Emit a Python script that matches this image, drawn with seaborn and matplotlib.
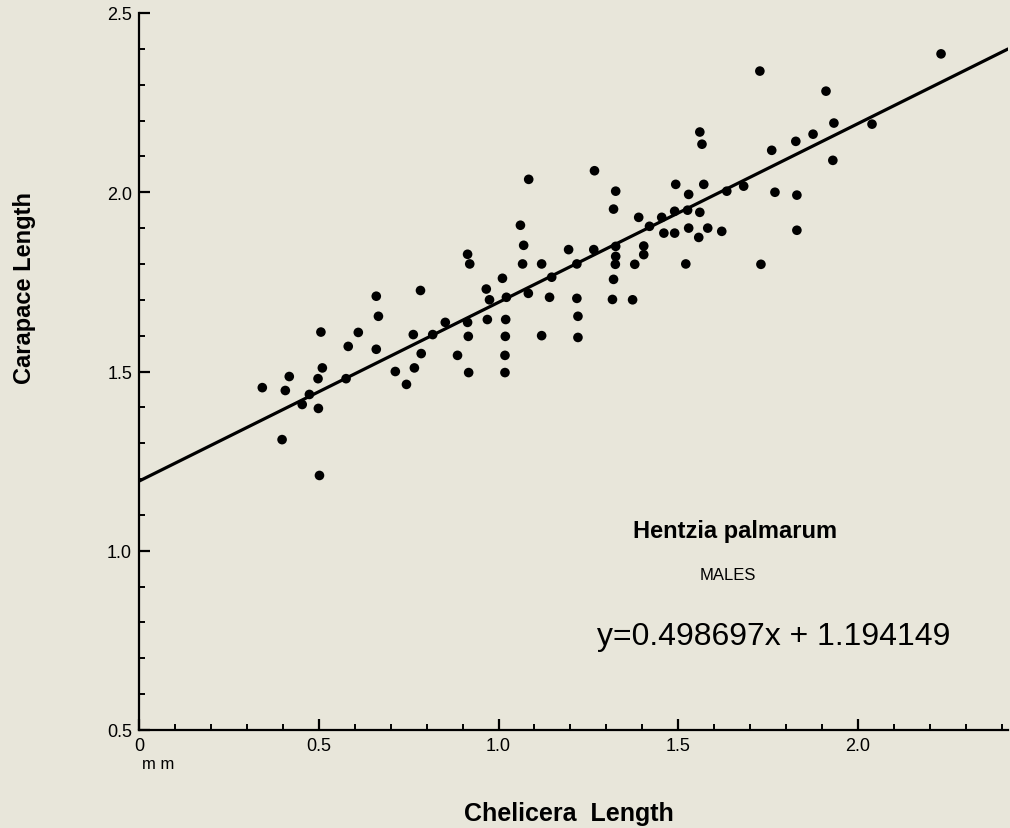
import numpy as np
import pandas as pd
import matplotlib
matplotlib.use("Agg")
import matplotlib.pyplot as plt
import seaborn as sns
from matplotlib.ticker import MultipleLocator, FixedLocator, FixedFormatter

# chelicera length (mm) and carapace length (mm)
chelicera = [0.343, 0.407, 0.418, 0.398, 0.454, 0.474, 0.499, 0.498, 0.510, 0.506,
             0.502, 0.576, 0.582, 0.610, 0.660, 0.666, 0.660, 0.713, 0.744, 0.766,
             0.785, 0.763, 0.783, 0.817, 0.852, 0.886, 0.914, 0.916, 0.917, 0.914,
             0.920, 0.966, 0.975, 0.969, 1.011, 1.022, 1.020, 1.019, 1.018, 1.018,
             1.067, 1.083, 1.120, 1.148, 1.142, 1.120, 1.061, 1.070, 1.084, 1.267,
             1.326, 1.320, 1.493, 1.571, 1.529, 1.635, 1.682, 1.760, 1.827, 1.875,
             1.930, 1.769, 1.830, 1.830, 1.730, 1.390, 1.454, 1.490, 1.526, 1.560,
             1.420, 1.460, 1.490, 1.529, 1.582, 1.557, 1.621, 1.521, 1.404, 1.404,
             1.379, 1.373, 1.326, 1.326, 1.325, 1.320, 1.317, 1.265, 1.195, 1.218,
             1.218, 1.221, 1.221, 1.560, 1.566, 1.727, 2.231, 1.911, 1.933, 2.039]
carapace = [1.455, 1.447, 1.486, 1.310, 1.408, 1.436, 1.397, 1.480, 1.510, 1.610,
            1.210, 1.480, 1.570, 1.609, 1.710, 1.654, 1.562, 1.500, 1.464, 1.510,
            1.550, 1.603, 1.726, 1.603, 1.637, 1.545, 1.637, 1.598, 1.497, 1.827,
            1.800, 1.730, 1.700, 1.645, 1.760, 1.707, 1.645, 1.598, 1.545, 1.497,
            1.800, 1.718, 1.800, 1.763, 1.707, 1.600, 1.908, 1.852, 2.036, 2.060,
            2.003, 1.953, 2.022, 2.022, 1.994, 2.003, 2.017, 2.117, 2.142, 2.162,
            2.089, 2.000, 1.992, 1.894, 1.799, 1.930, 1.930, 1.947, 1.950, 1.944,
            1.905, 1.886, 1.886, 1.900, 1.900, 1.874, 1.891, 1.800, 1.850, 1.826,
            1.799, 1.700, 1.849, 1.821, 1.799, 1.757, 1.701, 1.840, 1.840, 1.800,
            1.704, 1.654, 1.595, 2.168, 2.134, 2.338, 2.386, 2.282, 2.193, 2.190]

# regression given on the chart
slope = 0.498697
intercept = 1.194149

x_ticks = [0, 0.5, 1.0, 1.5, 2.0]
x_tick_labels = ["0", "0.5", "1.0", "1.5", "2.0"]
y_ticks = [0.5, 1.0, 1.5, 2.0, 2.5]
y_tick_labels = ["0.5", "1.0", "1.5", "2.0", "2.5"]

df = pd.DataFrame({"chelicera": chelicera, "carapace": carapace})

bg = "#e8e6da"
sns.set_style("ticks")
plt.rcParams["font.family"] = ["Liberation Sans", "DejaVu Sans"]
plt.rcParams["text.color"] = "black"
plt.rcParams["xtick.color"] = "black"
plt.rcParams["ytick.color"] = "black"
plt.rcParams["axes.labelcolor"] = "black"

fig = plt.figure(figsize=(10.1, 8.29), dpi=100, facecolor=bg)
ax = fig.add_axes([139 / 1010, 98 / 829, 869 / 1010, 717 / 829])
ax.set_facecolor(bg)

x_max = 869 / 359.5
line_x = np.array([0, x_max])
line_df = pd.DataFrame({"x": line_x, "y": slope * line_x + intercept})
sns.lineplot(data=line_df, x="x", y="y", ax=ax, color="black", linewidth=2.3)
sns.scatterplot(data=df, x="chelicera", y="carapace", ax=ax, color="black",
                s=48, edgecolor="none", zorder=3)

ax.set_xlim(0, x_max)
ax.set_ylim(0.5, 2.5)
sns.despine(ax=ax)
for side in ["left", "bottom"]:
    ax.spines[side].set_linewidth(1.6)
    ax.spines[side].set_color("black")

ax.xaxis.set_major_locator(FixedLocator(x_ticks))
ax.xaxis.set_major_formatter(FixedFormatter(x_tick_labels))
ax.yaxis.set_major_locator(FixedLocator(y_ticks))
ax.yaxis.set_major_formatter(FixedFormatter(y_tick_labels))
ax.xaxis.set_minor_locator(MultipleLocator(0.1))
ax.yaxis.set_minor_locator(MultipleLocator(0.1))
ax.tick_params(which="major", direction="in", length=8, width=1.6,
               labelsize=13, colors="black", pad=5)
ax.tick_params(which="minor", direction="in", length=4, width=1.4, colors="black")
ax.set_xlabel("")
ax.set_ylabel("")

fig.text(569 / 1010, 1 - 814 / 829, "Chelicera  Length", fontsize=18,
         fontweight="bold", ha="center", va="center")
fig.text(25 / 1010, 1 - 288 / 829, "Carapace Length", fontsize=17,
         fontweight="bold", ha="center", va="center", rotation=90)
fig.text(158 / 1010, 1 - 765 / 829, "m m", fontsize=12, ha="center", va="center")
fig.text(735 / 1010, 1 - 532 / 829, "Hentzia palmarum", fontsize=17,
         fontweight="bold", ha="center", va="center")
fig.text(728 / 1010, 1 - 576 / 829, "MALES", fontsize=12, ha="center", va="center")
fig.text(774 / 1010, 1 - 637 / 829, "y=0.498697x + 1.194149", fontsize=23,
         ha="center", va="center")

fig.savefig("out.png", dpi=100, facecolor=bg)
